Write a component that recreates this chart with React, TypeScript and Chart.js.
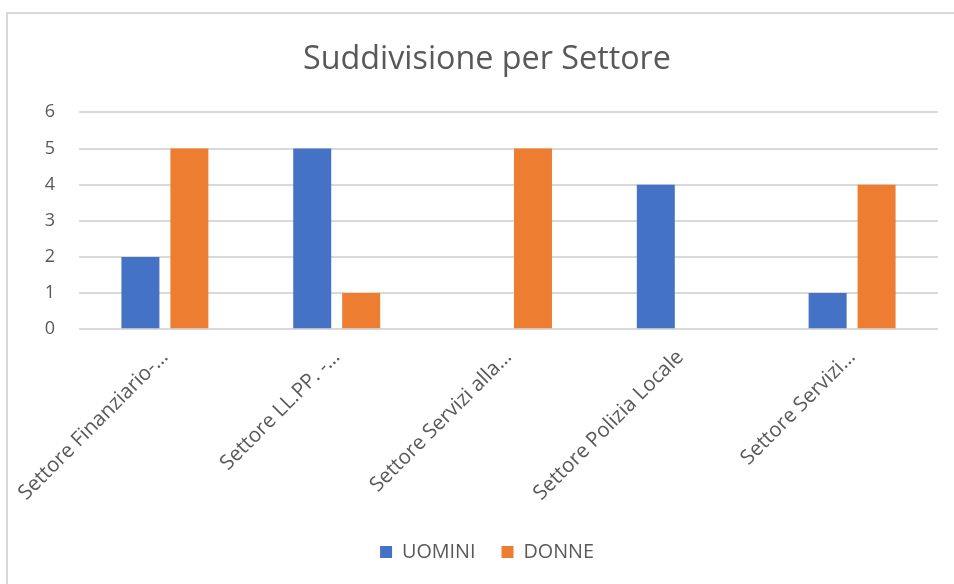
import React, { useEffect, useRef } from "react";
import { Chart, registerables } from "chart.js";

Chart.register(...registerables);

const categories = [
  "Settore Finanziario-…",
  "Settore LL.PP. -…",
  "Settore Servizi alla…",
  "Settore Polizia Locale",
  "Settore Servizi…",
];
const uomini = [2, 5, 0, 4, 1];
const donne = [5, 1, 5, 0, 4];
const seriesNames = ["UOMINI", "DONNE"];
const yTicks = [0, 1, 2, 3, 4, 5, 6];

const FONT = "'Open Sans', 'Noto Sans', sans-serif";
const TEXT = "#595959";
const GRID = "#d9d9d9";

export default function App() {
  const ref = useRef<HTMLCanvasElement | null>(null);

  useEffect(() => {
    document.body.style.margin = "0";
    const ctx = ref.current!;
    const chart = new Chart(ctx, {
      type: "bar",
      data: {
        labels: categories,
        datasets: [
          {
            label: seriesNames[0],
            data: uomini,
            backgroundColor: "#4472C4",
            categoryPercentage: 0.57,
            barPercentage: 0.776,
          },
          {
            label: seriesNames[1],
            data: donne,
            backgroundColor: "#ED7D31",
            categoryPercentage: 0.57,
            barPercentage: 0.776,
          },
        ],
      },
      options: {
        animation: false,
        responsive: false,
        maintainAspectRatio: false,
        layout: { padding: { left: 20, right: 0, top: 0, bottom: 12 } },
        plugins: {
          title: {
            display: true,
            text: "Suddivisione per Settore",
            color: TEXT,
            font: { family: FONT, size: 32.3, weight: "normal" as any, lineHeight: 1.2 },
            padding: { top: 40, bottom: 33.6 },
          },
          legend: {
            position: "bottom",
            labels: {
              color: TEXT,
              font: { family: FONT, size: 19.8 },
              boxWidth: 12,
              boxHeight: 12,
              padding: 26,
            },
          },
          tooltip: { enabled: false },
        },
        scales: {
          x: {
            grid: { display: false },
            border: { display: false },
            ticks: {
              color: TEXT,
              font: { family: FONT, size: 20.5 },
              maxRotation: 45,
              minRotation: 45,
              autoSkip: false,
              padding: 8,
            },
            afterFit: (scale: any) => {
              scale.height = 187;
            },
          },
          y: {
            min: 0,
            max: 6,
            afterBuildTicks: (scale: any) => {
              scale.ticks = yTicks.map((v) => ({ value: v }));
            },
            grid: { color: GRID, lineWidth: 2, drawTicks: false },
            border: { display: false },
            ticks: {
              color: TEXT,
              font: { family: FONT, size: 18 },
              padding: 24,
            },
            afterFit: (scale: any) => {
              scale.width = 59;
            },
          },
          yRight: {
            position: "right",
            min: 0,
            max: 6,
            grid: { display: false, drawTicks: false },
            border: { display: false },
            ticks: { display: false },
            afterFit: (scale: any) => {
              scale.width = 16;
            },
          },
        },
      },
    });
    return () => chart.destroy();
  }, []);

  return (
    <div style={{ position: "fixed", left: 0, top: 0, width: 954, height: 584, background: "#fff", overflow: "hidden" }}>
      <div
        style={{
          position: "absolute",
          left: 6,
          top: 12,
          width: 1000,
          height: 700,
          borderTop: "2px solid #d9d9d9",
          borderLeft: "2px solid #d9d9d9",
        }}
      />
      <canvas ref={ref} width={954} height={584} style={{ position: "absolute", left: 0, top: 0 }} />
    </div>
  );
}
